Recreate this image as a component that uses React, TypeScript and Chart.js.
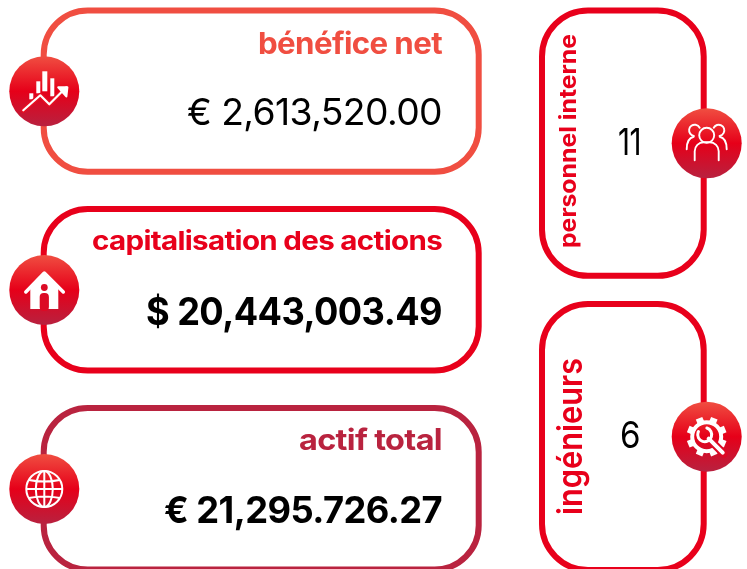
import React, { useEffect, useRef } from "react";
import { Chart, registerables } from "chart.js";

Chart.register(...registerables);

// Content
const wideLabels = ["bénéfice net", "capitalisation des actions", "actif total"];
const wideValues = ["€ 2,613,520.00", "$ 20,443,003.49", "€ 21,295.726.27"];
const tallLabels = ["personnel interne", "ingénieurs"];
const tallValues = ["11", "6"];

// Layout, in pixels of the 747x569 page
const wideTops = [10.5, 209, 408];
const wideBottoms = [171.8, 370.5, 569.5];
const wideColors = ["#f04e41", "#e8001b", "#b9233f"];
const wideValueWeights = [400, 700, 700];
const wideValueSizes = [37, 38, 37];
const wideLabelSizes = [30, 26, 29.5];
const wideLabelBase = [53.8, 249.6, 450];
const wideLabelWidth = [184, 350, 143];
const wideValueBase = [125, 324.7, 523];
const wideValueWidth = [255, 296, 278];
const tallTops = [10.4, 304];
const tallBottoms = [275.8, 570];
const tallLabelBase = [575.5, 582];
const tallLabelFrom = [248, 515];
const tallLabelLen = [214, 157];
const tallLabelSizes = [23, 34];
const tallLabelWeights = [700, 600];
const tallValueBase = [155, 447.5];
const tallValueWidth = [23, 20];
const tallValueX = [629.5, 630];
const tallIconY = [143.3, 436.7];
const wideIconY = [91.3, 290, 489];

const FONT = "Inter, 'Noto Sans', sans-serif";

function fitText(ctx: CanvasRenderingContext2D, text: string, right: number, base: number, width: number) {
  (ctx as any).letterSpacing = "-0.6px";
  const m = ctx.measureText(text).width;
  ctx.save();
  ctx.translate(right, base);
  ctx.scale(width / m, 1);
  ctx.textAlign = "right";
  ctx.textBaseline = "alphabetic";
  ctx.fillText(text, 0, 0);
  ctx.restore();
  (ctx as any).letterSpacing = "0px";
}

function badge(ctx: CanvasRenderingContext2D, cx: number, cy: number) {
  const g = ctx.createLinearGradient(0, cy - 35, 0, cy + 35);
  g.addColorStop(0, "#f04e41");
  g.addColorStop(0.5, "#e60019");
  g.addColorStop(1, "#b8213f");
  ctx.fillStyle = g;
  ctx.beginPath();
  ctx.arc(cx, cy, 35, 0, Math.PI * 2);
  ctx.fill();
}

function iconChart(ctx: CanvasRenderingContext2D) {
  ctx.fillStyle = "#fff";
  ctx.strokeStyle = "#fff";
  ctx.fillRect(-15, 2, 4, 6);
  ctx.fillRect(-8, -10, 4, 12);
  ctx.fillRect(-2, -20, 5, 20);
  ctx.fillRect(6, -13, 4, 18);
  ctx.lineCap = "round";
  ctx.lineJoin = "round";
  ctx.strokeStyle = "#e60f22";
  ctx.lineWidth = 5;
  ctx.beginPath();
  ctx.moveTo(-21, 19);
  ctx.lineTo(-4, 4);
  ctx.lineTo(5, 13);
  ctx.lineTo(22, -4);
  ctx.stroke();
  ctx.strokeStyle = "#fff";
  ctx.lineWidth = 2.2;
  ctx.stroke();
  ctx.beginPath();
  ctx.moveTo(14, -4);
  ctx.lineTo(23, -4);
  ctx.lineTo(22, 5);
  ctx.closePath();
  ctx.fill();
  ctx.stroke();
}

function iconHouse(ctx: CanvasRenderingContext2D) {
  ctx.fillStyle = "#fff";
  ctx.strokeStyle = "#fff";
  ctx.lineJoin = "round";
  ctx.lineCap = "round";
  ctx.lineWidth = 3.5;
  ctx.beginPath();
  ctx.moveTo(-18.5, 2);
  ctx.lineTo(0, -17);
  ctx.lineTo(19, 2);
  ctx.stroke();
  ctx.beginPath();
  ctx.moveTo(0, -16);
  ctx.lineTo(14, -2);
  ctx.lineTo(14, 19);
  ctx.lineTo(-14, 19);
  ctx.lineTo(-14, -2);
  ctx.closePath();
  ctx.fill();
  ctx.fillStyle = "#dc0a25";
  ctx.beginPath();
  ctx.arc(0, -2.5, 3.4, 0, Math.PI * 2);
  ctx.fill();
  ctx.beginPath();
  ctx.roundRect(-4.6, 3, 9.2, 18, 4);
  ctx.fill();
}

function iconGlobe(ctx: CanvasRenderingContext2D) {
  ctx.strokeStyle = "#fff";
  ctx.lineWidth = 2;
  ctx.beginPath();
  ctx.arc(0, 0, 18, 0, Math.PI * 2);
  ctx.stroke();
  ctx.beginPath();
  ctx.ellipse(0, 0, 8.5, 18, 0, 0, Math.PI * 2);
  ctx.moveTo(0, -18);
  ctx.lineTo(0, 18);
  ctx.moveTo(-18, 0);
  ctx.lineTo(18, 0);
  ctx.moveTo(-15.5, -9);
  ctx.quadraticCurveTo(0, -6, 15.5, -9);
  ctx.moveTo(-15.5, 9);
  ctx.quadraticCurveTo(0, 6, 15.5, 9);
  ctx.stroke();
}

function iconPeople(ctx: CanvasRenderingContext2D) {
  ctx.strokeStyle = "#fff";
  ctx.lineWidth = 1.9;
  ctx.lineCap = "round";
  ctx.beginPath();
  ctx.arc(0, -8, 7.5, 0, Math.PI * 2);
  ctx.stroke();
  ctx.beginPath();
  ctx.moveTo(-12, 17);
  ctx.lineTo(-12, 8);
  ctx.arc(-3, 8, 9, Math.PI, Math.PI * 1.5);
  ctx.lineTo(3, -1);
  ctx.arc(3, 8, 9, Math.PI * 1.5, 0);
  ctx.lineTo(12, 17);
  ctx.stroke();
  ctx.beginPath();
  ctx.arc(-12, -13, 5.6, Math.PI * 0.55, Math.PI * 1.85);
  ctx.stroke();
  ctx.beginPath();
  ctx.arc(12, -13, 5.6, Math.PI * 1.15, Math.PI * 0.45);
  ctx.stroke();
  ctx.beginPath();
  ctx.moveTo(-20, 6);
  ctx.quadraticCurveTo(-20, -5, -13, -6.5);
  ctx.moveTo(20, 6);
  ctx.quadraticCurveTo(20, -5, 13, -6.5);
  ctx.stroke();
}

function iconGear(ctx: CanvasRenderingContext2D) {
  ctx.strokeStyle = "#fff";
  ctx.fillStyle = "#fff";
  ctx.lineWidth = 4;
  ctx.beginPath();
  ctx.arc(0, 0, 14.5, 0, Math.PI * 2);
  ctx.stroke();
  for (let i = 0; i < 8; i++) {
    ctx.save();
    ctx.rotate((i * Math.PI) / 4 + Math.PI / 8);
    ctx.fillRect(-3.5, -20, 7, 7);
    ctx.restore();
  }
  // wrench
  ctx.lineCap = "round";
  ctx.strokeStyle = "#dc0a25";
  ctx.lineWidth = 8;
  ctx.beginPath();
  ctx.moveTo(3, 3);
  ctx.lineTo(17, 17);
  ctx.stroke();
  ctx.strokeStyle = "#fff";
  ctx.lineWidth = 4;
  ctx.beginPath();
  ctx.moveTo(2, 2);
  ctx.lineTo(16, 16);
  ctx.stroke();
  ctx.lineWidth = 3;
  ctx.beginPath();
  ctx.arc(-2, -2, 7, Math.PI * 1.6, Math.PI * 1.15);
  ctx.stroke();
}

const infographic = {
  id: "infographic",
  afterDraw(chart: any) {
    const ctx: CanvasRenderingContext2D = chart.ctx;
    const X = (v: number) => chart.scales.x.getPixelForValue(v);
    const Y = (v: number) => chart.scales.y.getPixelForValue(v);
    ctx.save();

    wideLabels.forEach((label, i) => {
      const top = Y(wideTops[i]);
      const bottom = Y(wideBottoms[i]);
      ctx.strokeStyle = wideColors[i];
      ctx.lineWidth = 6;
      ctx.beginPath();
      ctx.roundRect(X(43.7), top, X(478.7) - X(43.7), bottom - top, 44);
      ctx.stroke();

      ctx.fillStyle = wideColors[i];
      ctx.font = `700 ${wideLabelSizes[i]}px ${FONT}`;
      fitText(ctx, label, X(442), Y(wideLabelBase[i]), wideLabelWidth[i]);

      ctx.fillStyle = "#000";
      ctx.font = `${wideValueWeights[i]} ${wideValueSizes[i]}px ${FONT}`;
      fitText(ctx, wideValues[i], X(442), Y(wideValueBase[i]), wideValueWidth[i]);

      badge(ctx, X(44.3), Y(wideIconY[i]));
      ctx.save();
      ctx.translate(X(44.3), Y(wideIconY[i]));
      [iconChart, iconHouse, iconGlobe][i](ctx);
      ctx.restore();
    });

    tallLabels.forEach((label, i) => {
      const top = Y(tallTops[i]);
      const bottom = Y(tallBottoms[i]);
      ctx.strokeStyle = "#e8001b";
      ctx.lineWidth = 6;
      ctx.beginPath();
      ctx.roundRect(X(542), top, X(703.7) - X(542), bottom - top, 46);
      ctx.stroke();

      ctx.save();
      ctx.translate(X(tallLabelBase[i]), Y(tallLabelFrom[i]));
      ctx.rotate(-Math.PI / 2);
      ctx.fillStyle = "#e8001b";
      ctx.font = `${tallLabelWeights[i]} ${tallLabelSizes[i]}px ${FONT}`;
      const m = ctx.measureText(label).width;
      ctx.scale(tallLabelLen[i] / m, 1);
      ctx.textAlign = "left";
      ctx.textBaseline = "alphabetic";
      ctx.fillText(label, 0, 0);
      ctx.restore();

      ctx.fillStyle = "#000";
      ctx.font = `400 37px ${FONT}`;
      fitText(
        ctx,
        tallValues[i],
        X(tallValueX[i] + tallValueWidth[i] / 2),
        Y(tallValueBase[i]),
        tallValueWidth[i]
      );

      badge(ctx, X(706.7), Y(tallIconY[i]));
      ctx.save();
      ctx.translate(X(706.7), Y(tallIconY[i]));
      [iconPeople, iconGear][i](ctx);
      ctx.restore();
    });
    ctx.restore();
  },
};

export default function App() {
  const ref = useRef<HTMLCanvasElement>(null);
  useEffect(() => {
    const chart = new Chart(ref.current!, {
      type: "scatter",
      data: { datasets: [{ data: [], pointRadius: 0 }] },
      options: {
        animation: false,
        responsive: false,
        layout: { padding: 0 },
        plugins: { legend: { display: false }, tooltip: { enabled: false }, title: { display: false } },
        scales: {
          x: { type: "linear", min: 0, max: 747, display: false },
          y: { type: "linear", min: 0, max: 569, reverse: true, display: false },
        },
      },
      plugins: [infographic],
    } as any);
    return () => chart.destroy();
  }, []);
  return (
    <div style={{ position: "fixed", left: 0, top: 0, width: 747, height: 569, background: "#fff" }}>
      <canvas ref={ref} width={747} height={569} style={{ display: "block" }} />
    </div>
  );
}
